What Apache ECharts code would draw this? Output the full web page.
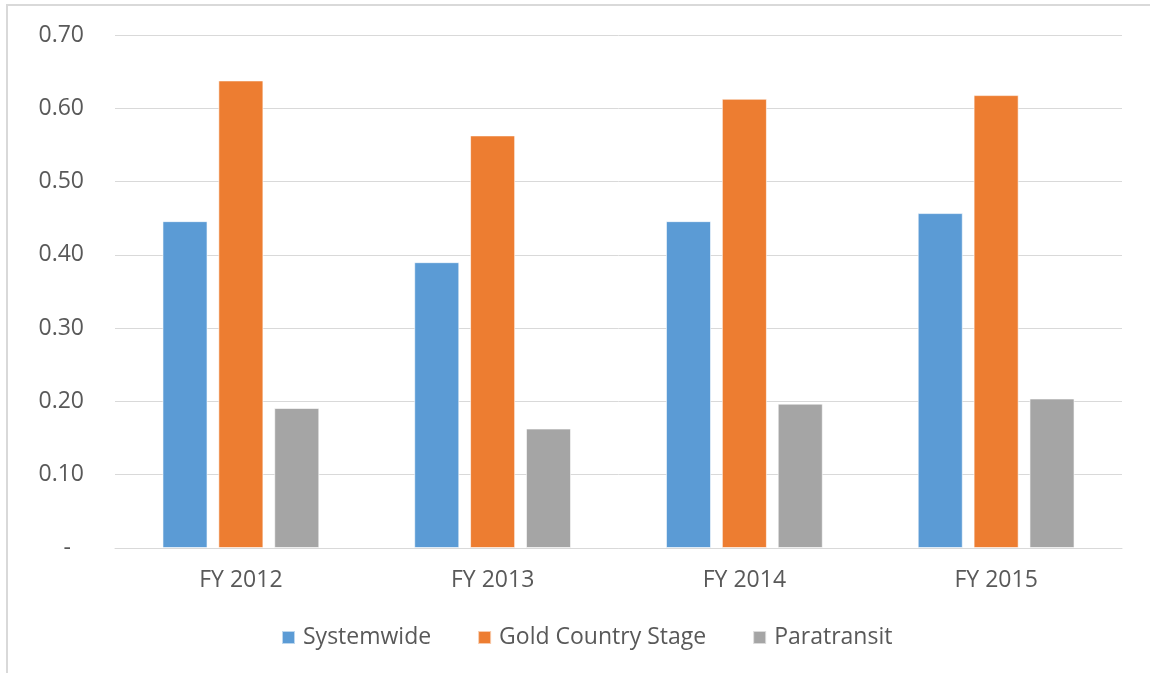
<!DOCTYPE html>
<html>
<head>
<meta charset="utf-8">
<script src="https://cdn.jsdelivr.net/npm/echarts@6/dist/echarts.min.js"></script>
<style>
  html, body { margin: 0; padding: 0; background: #ffffff; }
  #frame {
    position: absolute; left: 6px; top: 4px; width: 1150px; height: 680px;
    border-left: 2px solid #d9d9d9; border-top: 2px solid #d9d9d9;
  }
  #chart { position: absolute; left: 0; top: 0; width: 1150px; height: 673px; }
</style>
</head>
<body>
<div id="frame"></div>
<div id="chart"></div>
<script>
// Fiscal years on the category axis
const categories = ['FY 2012', 'FY 2013', 'FY 2014', 'FY 2015'];

// Series values per fiscal year
const systemwide = [0.446, 0.390, 0.446, 0.457];
const goldCountryStage = [0.638, 0.563, 0.613, 0.618];
const paratransit = [0.191, 0.163, 0.197, 0.204];

const seriesNames = ['Systemwide', 'Gold Country Stage', 'Paratransit'];
const seriesColors = ['#5b9bd5', '#ed7d31', '#a5a5a5'];
const seriesValues = [systemwide, goldCountryStage, paratransit];

const font = '"Open Sans", "Noto Sans", sans-serif';
const textColor = '#595959';

const chart = echarts.init(document.getElementById('chart'), null, { renderer: 'canvas' });

chart.setOption({
  animation: false,
  backgroundColor: 'transparent',
  grid: { left: 115, right: 28, top: 35, bottom: 125, containLabel: false },
  legend: {
    bottom: 19,
    left: 276,
    itemWidth: 13,
    itemHeight: 13,
    itemGap: 46,
    icon: 'rect',
    textStyle: { fontFamily: font, fontSize: 23, color: textColor, padding: [0, 0, 0, 3] },
    data: seriesNames
  },
  xAxis: {
    type: 'category',
    data: categories,
    axisLine: { show: true, lineStyle: { color: '#d9d9d9', width: 1 } },
    axisTick: { show: false },
    axisLabel: { fontFamily: font, fontSize: 23, color: textColor, margin: 21 }
  },
  yAxis: {
    type: 'value',
    min: 0,
    max: 0.7,
    interval: 0.1,
    axisLine: { show: false },
    axisTick: { show: false },
    splitLine: { lineStyle: { color: '#d9d9d9', width: 1 } },
    axisLabel: {
      fontFamily: font, fontSize: 23, color: textColor, margin: 31,
      formatter: function (v) {
        return Math.abs(v) < 1e-9 ? '{dash|-}' : v.toFixed(2);
      },
      rich: {
        dash: { fontFamily: font, fontSize: 23, color: textColor, padding: [0, 13, 0, 0] }
      }
    }
  },
  series: seriesNames.map(function (name, i) {
    return {
      name: name,
      type: 'bar',
      data: seriesValues[i],
      barWidth: '17.9%',
      barGap: '24%',
      itemStyle: { color: seriesColors[i], borderColor: 'rgba(255,255,255,0.6)', borderWidth: 1 }
    };
  })
});
</script>
</body>
</html>
